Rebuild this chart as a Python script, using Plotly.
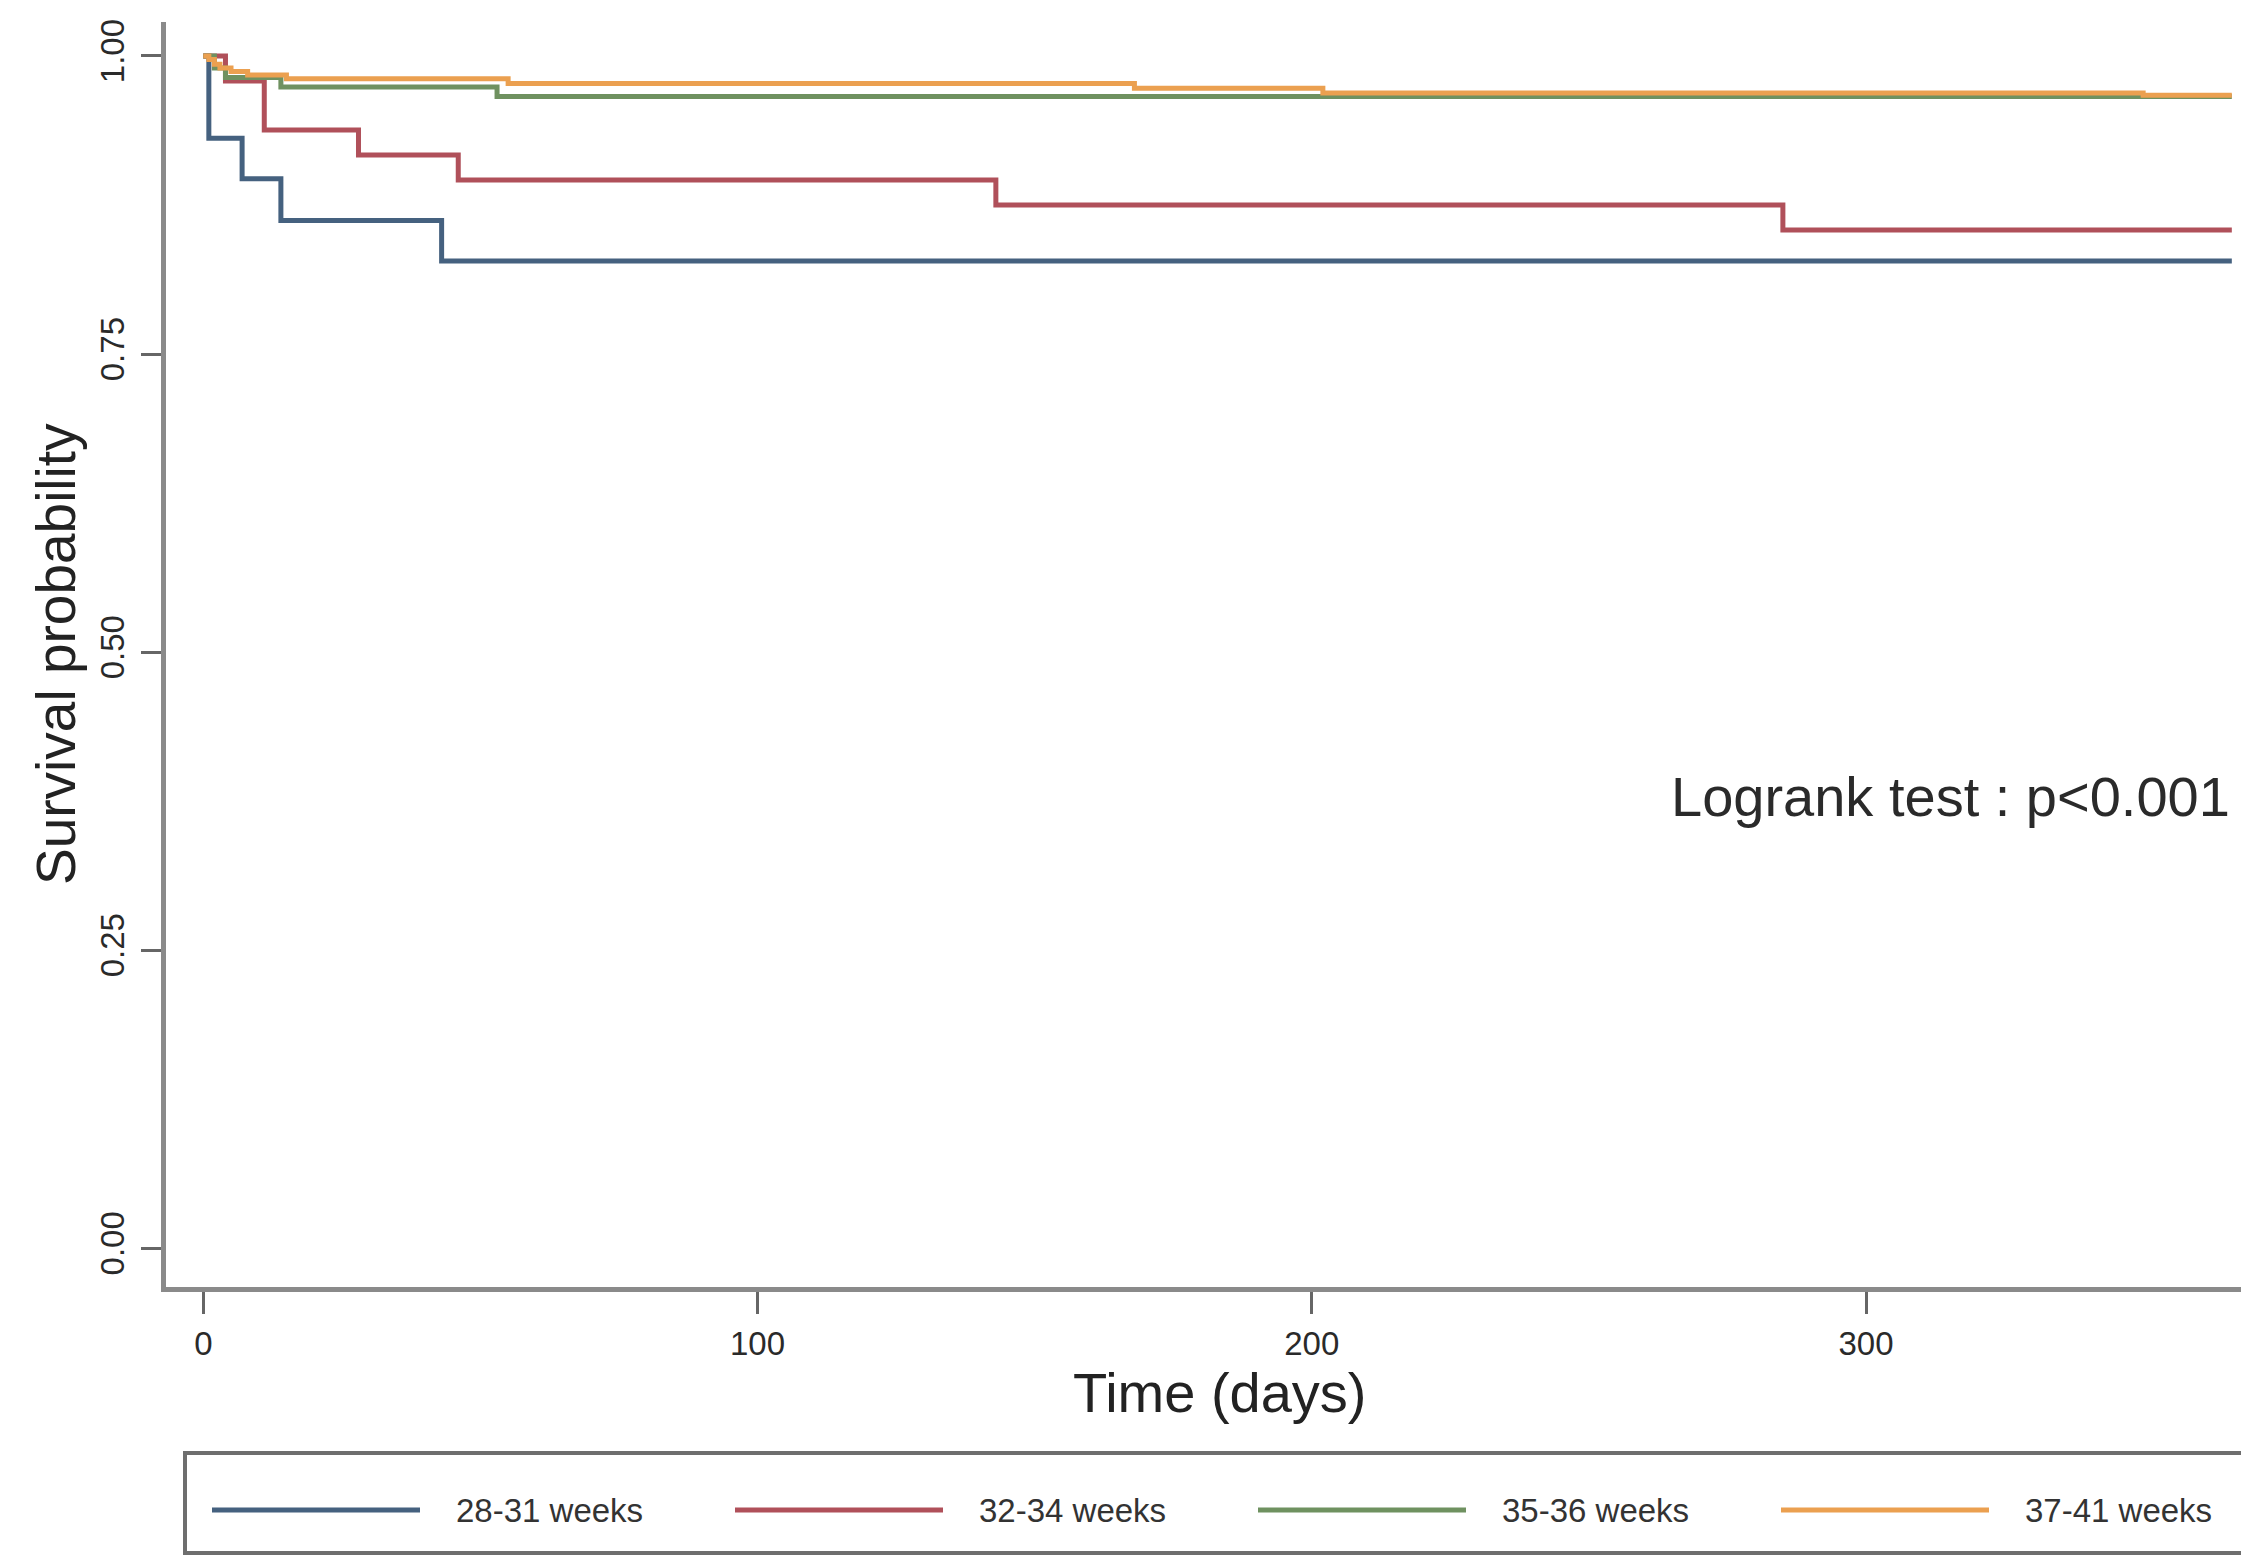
import plotly.graph_objects as go

# ---- data ----
groups = ["28-31 weeks", "32-34 weeks", "35-36 weeks", "37-41 weeks"]

days_2831 = [0, 1, 7, 14, 43, 366]
surv_2831 = [1.0, 0.931, 0.897, 0.862, 0.828, 0.828]

days_3234 = [0, 4, 11, 28, 46, 143, 285, 366]
surv_3234 = [1.0, 0.979, 0.938, 0.917, 0.896, 0.875, 0.854, 0.854]

days_3536 = [0, 2, 4, 14, 53, 366]
surv_3536 = [1.0, 0.990, 0.982, 0.974, 0.966, 0.966]

days_3741 = [0, 1, 2, 3, 5, 8, 15, 55, 168, 202, 350, 366]
surv_3741 = [1.0, 0.997, 0.993, 0.990, 0.987, 0.984, 0.981, 0.977, 0.973, 0.969, 0.967, 0.967]

x_ticks = [0, 100, 200, 300]
y_ticks = [0.0, 0.25, 0.5, 0.75, 1.0]
y_ticktext = ["0.00", "0.25", "0.50", "0.75", "1.00"]

colors = ["#45617f", "#b0505a", "#6f9160", "#eba050"]

series = [(days_2831, surv_2831), (days_3234, surv_3234),
          (days_3536, surv_3536), (days_3741, surv_3741)]

# The page body has an 8px default margin: size the figure so it ends at the window edge.
OFF = 8
W, H = 2249 - OFF, 1555 - OFF
ML, MR, MT, MB = 166 - OFF, 0, 22 - OFF, 268
PW, PH = W - ML - MR, H - MT - MB

fig = go.Figure()
for name, (d, s), c in zip(groups, series, colors):
    fig.add_trace(go.Scatter(
        x=d, y=s, mode="lines", name=name,
        line=dict(color=c, width=5, shape="hv"),
        showlegend=False, hoverinfo="x+y+name"))

FONT = "Liberation Sans, Arial, sans-serif"

# helpers: page pixel -> paper coordinates
def px_to_paper_x(px):
    return (px - OFF - ML) / PW

def px_to_paper_y(py):
    return (OFF + MT + PH - py) / PH

shapes = []
annotations = []

# Legend box
shapes.append(dict(type="rect", xref="paper", yref="paper",
                   x0=px_to_paper_x(185), x1=px_to_paper_x(2245),
                   y0=px_to_paper_y(1553), y1=px_to_paper_y(1453),
                   line=dict(color="#6e6e6e", width=4), fillcolor="white", layer="below"))
leg_y = px_to_paper_y(1510)
sample_x0 = [212, 735, 1258, 1781]
for i, (name, c) in enumerate(zip(groups, colors)):
    shapes.append(dict(type="line", xref="paper", yref="paper",
                       x0=px_to_paper_x(sample_x0[i]), x1=px_to_paper_x(sample_x0[i] + 208),
                       y0=leg_y, y1=leg_y, line=dict(color=c, width=5)))
    annotations.append(dict(text=name, xref="paper", yref="paper",
                            x=px_to_paper_x(sample_x0[i] + 242), y=leg_y,
                            xanchor="left", yanchor="middle", showarrow=False,
                            font=dict(family=FONT, size=33, color="#333")))

# axis titles
annotations.append(dict(text="Time (days)", xref="paper", yref="paper",
                        x=px_to_paper_x(1220), y=px_to_paper_y(1392),
                        xanchor="center", yanchor="middle", showarrow=False,
                        font=dict(family=FONT, size=56, color="#222")))
annotations.append(dict(text="Survival probability", xref="paper", yref="paper",
                        x=px_to_paper_x(56), y=px_to_paper_y(654),
                        xanchor="center", yanchor="middle", showarrow=False, textangle=-90,
                        font=dict(family=FONT, size=55, color="#222")))

annotations.append(dict(text="Logrank test : p<0.001", x=366, y=0.379,
                        xref="x", yref="y", xanchor="right", yanchor="middle",
                        showarrow=False, font=dict(family=FONT, size=56, color="#2a2a2a")))

fig.update_layout(
    template="none",
    width=W, height=H,
    margin=dict(l=ML, r=MR, t=MT, b=MB, pad=0, autoexpand=False),
    paper_bgcolor="white", plot_bgcolor="white",
    font=dict(family=FONT, color="#333"),
    shapes=shapes, annotations=annotations,
    showlegend=False,
)
fig.update_xaxes(
    automargin=False,
    range=[-6.73, 369.1], tickvals=x_ticks, ticktext=[str(v) for v in x_ticks],
    showgrid=False, zeroline=False, showline=True, linecolor="#8a8a8a", linewidth=5,
    ticks="outside", ticklen=22, tickwidth=3, tickcolor="#666", ticklabelstandoff=1,
    tickfont=dict(family=FONT, size=33, color="#2a2a2a"),
)
fig.update_yaxes(
    automargin=False,
    range=[-0.0325, 1.0285], tickvals=y_ticks, ticktext=y_ticktext, tickangle=-90,
    showgrid=False, zeroline=False, showline=True, linecolor="#8a8a8a", linewidth=5,
    ticks="outside", ticklen=20, tickwidth=3, tickcolor="#666", ticklabelstandoff=4,
    tickfont=dict(family=FONT, size=33, color="#2a2a2a"),
)

fig.write_html("out.html")
